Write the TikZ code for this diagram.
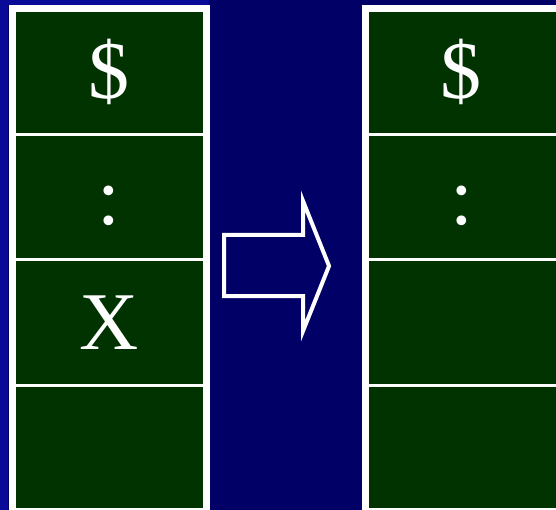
\documentclass[tikz,border=0pt]{standalone}
\usepackage{fontspec}
\setmainfont{Liberation Serif}
\definecolor{navy}{HTML}{000066}
\definecolor{brightblue}{HTML}{0A0A99}
\definecolor{cellgreen}{HTML}{003300}
\begin{document}
\begin{tikzpicture}[x=1pt,y=-1pt,
  cell/.style={draw=white, line width=3pt, fill=cellgreen, minimum width=194pt,
    minimum height=125.5pt, inner sep=0pt, outer sep=0pt},
  big/.style={text=white, font=\fontsize{82}{82}\selectfont, inner sep=0pt, anchor=base},
  frame/.style={draw=white, line width=7pt},
  blockarrow/.style={draw=white, line width=4pt, fill=navy, line join=miter}]
\useasboundingbox (0,0) rectangle (556,510);
\clip (0,0) rectangle (556,510);
\fill[navy] (0,0) rectangle (556,510);
\fill[brightblue] (0,0) rectangle (8,510);
\fill[brightblue] (0,0) rectangle (209,5);
% left stack
\node[cell] (L1) at (109,71.75) {};
\node[cell] (L2) at (109,197.25) {};
\node[cell] (L3) at (109,322.75) {};
\node[cell] (L4) at (109,448.25) {};
\draw[frame] (L1.north west) rectangle (L4.south east);
% right stack
\node[cell] (R1) at (462,71.75) {};
\node[cell] (R2) at (462,197.25) {};
\node[cell] (R3) at (462,322.75) {};
\node[cell] (R4) at (462,448.25) {};
\draw[frame] (R1.north west) rectangle (R4.south east);
% texts
\node[big] (t1) at (108.5,99) {\$};
\node[big] (t2) at (109,225) {:};
\node[big] (t3) at (109.5,349) {X};
\node[big] (t4) at (461,99) {\$};
\node[big] (t5) at (461.5,225) {:};
% arrow
\draw[blockarrow] (224,235) -- (303,235) -- (303,201) -- (329,266) -- (303,331)
  -- (303,296) -- (224,296) -- cycle;
\end{tikzpicture}
\end{document}
